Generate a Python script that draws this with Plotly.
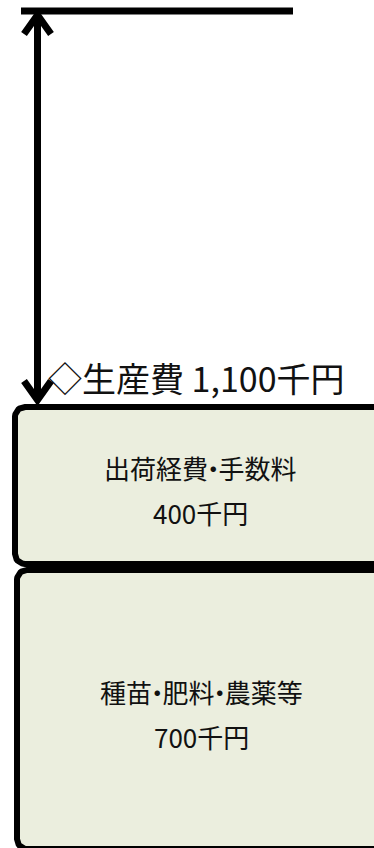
import numpy as np
import plotly.graph_objects as go

# 生産費の内訳（千円）  下から順に積み上げ
items = ["種苗・肥料・農薬等", "出荷経費・手数料"]
costs = [700, 400]
top_level = 2065      # 上の横線の位置（千円、図から読み取り）
unit = "千円"
total_name = "生産費"

total = sum(costs)

# 画面サイズと縦方向の縮尺（px / 千円）
W, H = 374, 848
k = 448 / 1100
y_hi = 852 / k
y_lo = y_hi - H / k


def dy(px):
    return px / k


fill = "#EBEEDE"
ink = "black"
font = "Noto Sans CJK JP, Noto Sans, sans-serif"


def rounded_box(x0, x1, y0, y1, r):
    rx, ry = r, dy(r)
    xs, ys = [], []
    corners = [(x1 - rx, y1 - ry, 0), (x0 + rx, y1 - ry, 90),
               (x0 + rx, y0 + ry, 180), (x1 - rx, y0 + ry, 270)]
    for cx, cy, a0 in corners:
        t = np.radians(np.linspace(a0, a0 + 90, 12))
        xs += list(cx + rx * np.cos(t))
        ys += list(cy + ry * np.sin(t))
    xs.append(xs[0])
    ys.append(ys[0])
    return xs, ys


def tight_dots(s):
    # 「・」の前後を詰める
    out = ""
    for i, ch in enumerate(s):
        if ch == "・" or (i + 1 < len(s) and s[i + 1] == "・"):
            out += f'<span style="letter-spacing:-0.3em">{ch}</span>'
        else:
            out += ch
    return out


fig = go.Figure()

# 積み上げの箱
lefts = [17, 15]
right = 385
gap = dy(3)
base = 0
annots = []
for name, val, x0 in zip(items, costs, lefts):
    y0, y1 = base + gap, base + val - gap
    xs, ys = rounded_box(x0, right, y0, y1, 10)
    fig.add_trace(go.Scatter(x=xs, y=ys, mode="lines", fill="toself",
                             fillcolor=fill, line=dict(color=ink, width=6),
                             hoverinfo="skip", showlegend=False))
    mid = base + val / 2
    xc = (x0 + right) / 2
    annots.append(dict(x=xc, y=mid, text=tight_dots(name), yshift=18))
    annots.append(dict(x=xc, y=mid, text=f"{val:,}{unit}", yshift=-27))
    base += val

# 上の横線
fig.add_trace(go.Scatter(x=[21, 293], y=[top_level, top_level], mode="lines",
                         line=dict(color=ink, width=7),
                         hoverinfo="skip", showlegend=False))

# 両矢印
ax = 37.5
a_top = top_level - dy(4)
a_bot = total + dy(4)
fig.add_trace(go.Scatter(x=[ax, ax], y=[a_top, a_bot], mode="lines",
                         line=dict(color=ink, width=7),
                         hoverinfo="skip", showlegend=False))
fig.add_trace(go.Scatter(x=[ax - 13.5, ax, ax + 13.5],
                         y=[a_top - dy(19), a_top, a_top - dy(19)], mode="lines",
                         line=dict(color=ink, width=7),
                         hoverinfo="skip", showlegend=False))
fig.add_trace(go.Scatter(x=[ax - 13.5, ax, ax + 13.5],
                         y=[a_bot + dy(19), a_bot, a_bot + dy(19)], mode="lines",
                         line=dict(color=ink, width=7),
                         hoverinfo="skip", showlegend=False))

# 文字
for a in annots:
    fig.add_annotation(x=a["x"], y=a["y"], text=a["text"], yshift=a["yshift"],
                       showarrow=False, xanchor="center", yanchor="middle",
                       font=dict(family=font, size=26, color="#111111"))

fig.add_annotation(x=46, y=total, text=f"◇{total_name} {total:,}{unit}",
                   yshift=27, showarrow=False, xanchor="left", yanchor="middle",
                   font=dict(family=font, size=34, color="#111111"))

fig.update_layout(
    width=W, height=H,
    margin=dict(l=0, r=0, t=0, b=0),
    paper_bgcolor="white", plot_bgcolor="white",
    xaxis=dict(range=[0, W], visible=False, fixedrange=True),
    yaxis=dict(range=[y_lo, y_hi], visible=False, fixedrange=True),
    showlegend=False,
)

fig.write_html("out.html", config={"displayModeBar": False},
               post_script="document.body.style.margin='0';"
                           "document.body.style.overflow='hidden';")
